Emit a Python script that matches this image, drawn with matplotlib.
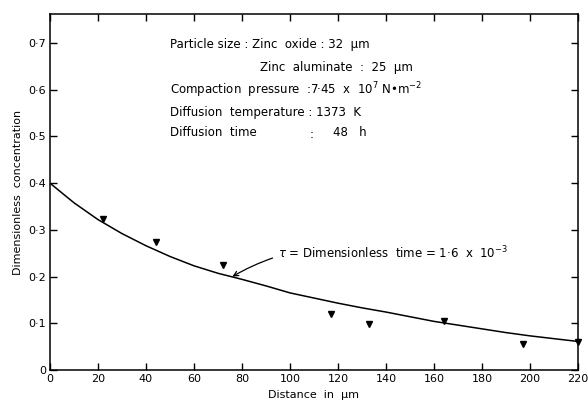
import matplotlib.pyplot as plt

# measured points (triangles)
dist_pts = [22, 44, 72, 117, 133, 164, 197, 220]
conc_pts = [0.323, 0.274, 0.225, 0.119, 0.098, 0.105, 0.055, 0.060]

# fitted curve
dist_curve = [0, 10, 20, 30, 40, 50, 60, 70, 80, 90, 100, 110, 120, 130, 140,
              150, 160, 170, 180, 190, 200, 210, 220]
conc_curve = [0.400, 0.358, 0.322, 0.292, 0.266, 0.243, 0.223, 0.207, 0.194,
              0.180, 0.165, 0.154, 0.143, 0.133, 0.124, 0.114, 0.104, 0.096,
              0.088, 0.080, 0.073, 0.067, 0.061]

xticks = [0, 20, 40, 60, 80, 100, 120, 140, 160, 180, 200, 220]
yticks = [0, 0.1, 0.2, 0.3, 0.4, 0.5, 0.6, 0.7]
ylabels = ["0", "0·1", "0·2", "0·3", "0·4", "0·5", "0·6", "0·7"]

fig = plt.figure(figsize=(5.88, 4.03), dpi=100)
ax = fig.add_axes([0.085, 0.082, 0.898, 0.883])

ax.plot(dist_curve, conc_curve, color="black", lw=1.1, solid_capstyle="round")
ax.plot(dist_pts, conc_pts, "v", color="black", ms=5, clip_on=False)

ax.set_xlim(0, 220)
ax.set_ylim(0, 0.762)
ax.set_xticks(xticks)
ax.set_xticklabels([str(t) for t in xticks], fontsize=8)
ax.set_yticks(yticks)
ax.set_yticklabels(ylabels, fontsize=8)
ax.tick_params(direction="in", top=True, right=True, length=5, width=1, pad=3)
for s in ax.spines.values():
    s.set_linewidth(1.1)

ax.set_xlabel("Distance  in  μm", fontsize=8, labelpad=4)
ax.set_ylabel("Dimensionless  concentration", fontsize=8, labelpad=4)

# info block
fs = 8.5
ax.text(50, 0.697, "Particle size : Zinc  oxide : 32  μm", fontsize=fs, va="center")
ax.text(87.5, 0.648, "Zinc  aluminate  :  25  μm", fontsize=fs, va="center")
ax.text(50, 0.599, "Compaction  pressure  :7·45  x  10$^{7}$ N•m$^{-2}$", fontsize=fs, va="center")
ax.text(50, 0.552, "Diffusion  temperature : 1373  K", fontsize=fs, va="center")
ax.text(50, 0.509, "Diffusion  time", fontsize=fs, va="center")
ax.text(108, 0.505, ":", fontsize=fs, va="center")
ax.text(118, 0.509, "48   h", fontsize=fs, va="center")

ax.annotate("$\\tau$ = Dimensionless  time = 1·6  x  10$^{-3}$",
            xy=(76, 0.200), xytext=(95, 0.250),
            fontsize=fs, va="center", ha="left",
            arrowprops=dict(arrowstyle="->", color="black", lw=0.9,
                            connectionstyle="arc3,rad=0.2",
                            shrinkA=2, shrinkB=0))

fig.savefig("out.png", dpi=100)
